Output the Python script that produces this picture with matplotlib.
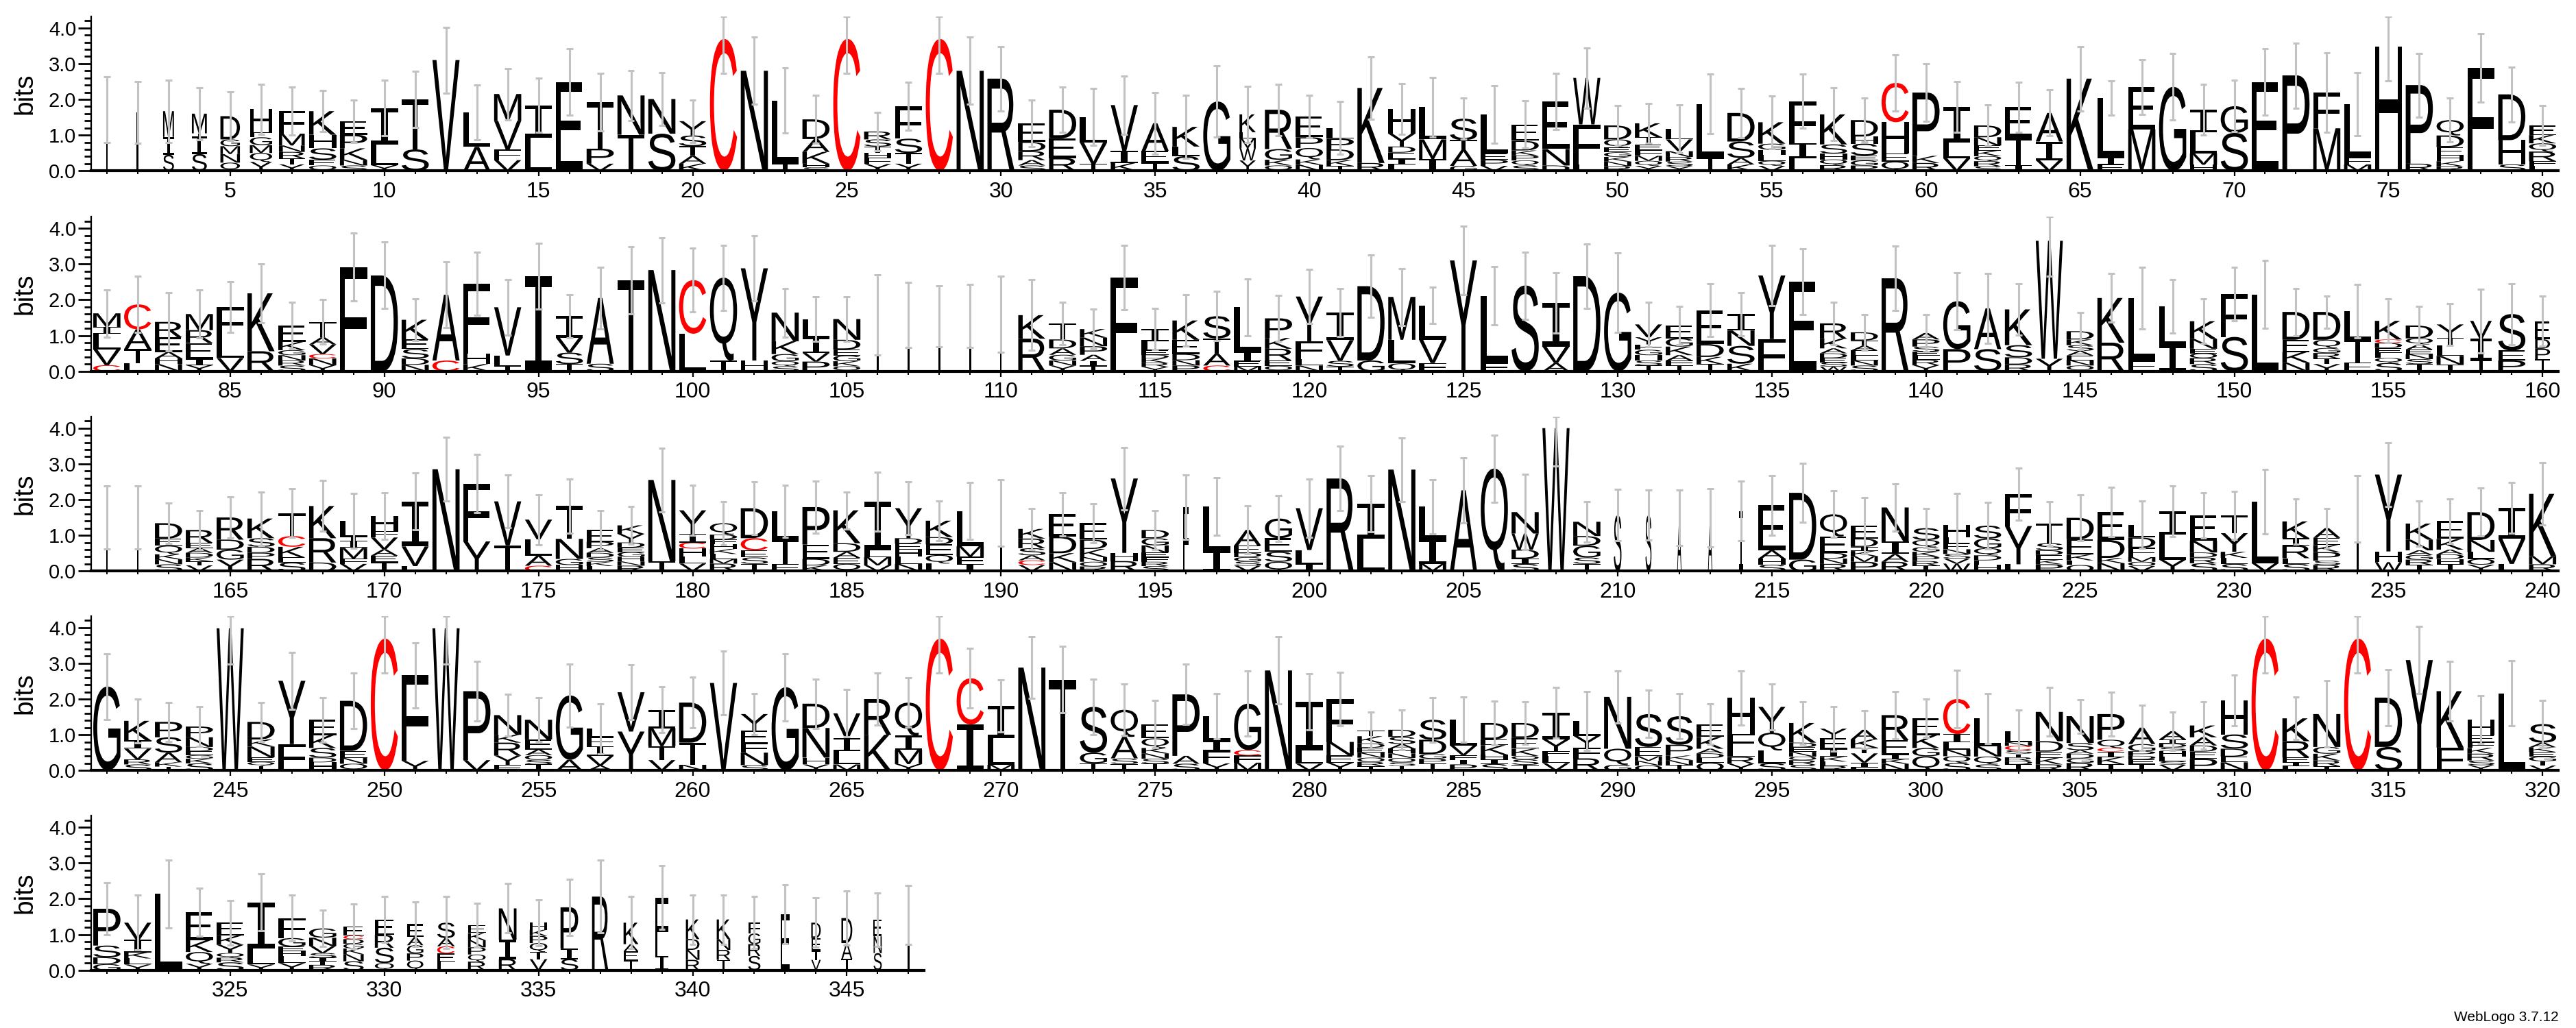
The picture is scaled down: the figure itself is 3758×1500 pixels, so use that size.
import matplotlib
matplotlib.use('Agg')
import matplotlib.pyplot as plt
from matplotlib.textpath import TextPath
from matplotlib.font_manager import FontProperties
from matplotlib.patches import PathPatch
from matplotlib.transforms import Affine2D
import numpy as np

# ---------------- data: stacks listed top -> bottom, "letter+bits" ----------------
ROW1_STACKS = [
    "I1.71", "I1.64", "M.72 I.5 S.45", "M.55 T.08 I.5 S.47", "D.65 G.19 M.22 N.24 Q.23",
    "H.65 F.14 G.22 M.22 Q.25 Y.25", "F.64 M.33 N.18 R.18 T.17 Y.18", "K.66 H.38 S.32 E.16 Q.15",
    "E.38 P.38 K.32 N.16 S.15", "I1.02 L.58 Y.16",
    "T1.4 S.6", "V3.1", "L.96 A.67", "M.75 V.8 F.3 V.3", "I.9 L.93",
    "E2.48", "T1.3 P.42 V.2", "N1.1 T1.01", "N.97 S1.04", "Y.4 S.3 T.27 A.22 K.2",
    "C3.69", "N2.8", "L1.77 T.2", "D.55 A.36 K.33 H.1 S.1", "C3.69",
    "R.22 S.2 T.18 H.13 F.18 Y.19", "F.9 S.4 T.3 Y.2", "C3.69", "N2.8", "R2.58",
    "E.52 D.26 R.25 A.15 S.15", "D.8 E.55 R.36", "L.72 V.6 T.19", "V1.28 I.34 K.22", "A.77 E.33 T.23",
    "K.55 L.27 S.41", "G1.94", "K.5 L.17 M.27 W.35 Y.29", "R1.1 G.3 K.16 Q.15", "E.58 P.3 Q.32 K.15 N.17",
    "L.3 P.3 D.3 K.16 T.14", "K2.1 R.22", "H.7 Y.36 D.17 E.17 I.17 L.17", "L.9 M.55 I.33", "S.6 T.27 A.45 G.14",
    "L1.1 E.17 P.17 V.14", "E.46 D.27 K.14 P.14 Q.14 S.15", "E1.33 N.46 D.15", "W1.3 F1.13 L.17",
    "D.39 Q.23 E.13 G.13 K.13 N.13 R.13",
    "K.39 T.2 E.16 F.16 M.14 Q.14 Y.14", "L.3 V.33 N.16 R.13 S.13 Y.13", "L1.5 T.37", "D.8 S.46 A.18 K.18",
    "K.6 G.17 H.14 L.17 Q.14 V.14",
    "F1.17 I.42 L.36", "K.84 S.26 H.16 Q.16 R.16", "D.46 H.2 S.33 E.14 G.14 P.15", "C1.1 H.87 E.23 Q.26",
    "P1.77 K.2 R.22",
    "I.98 L.45 V.35", "D.33 N.23 E.14 K.16 Q.14 R.14 S.13", "E.84 T.78 I.16", "A.8 I.52 V.3", "K2.58",
    "L1.66 I.2 E.17", "E1.19 M1.16", "G2.35", "I.64 L.58 M.32 H.17", "G.75 S1.06",
    "E2.48", "P2.67", "F1.0 M1.19", "L1.5 F.19 M.18", "H3.47",
    "P2.2 R.2", "Q.43 D.33 E.23 H.16 K.14 R.13", "F2.89", "D1.28 H.68 S.18", "E.27 K.23 Q.23 R.27 F.13 L.14",
]
ROW1_ERR = [
    .92, .86, .87, .73, .68, .70, .67, .57, .60, .77,
    .78, .92, .77, .72, .76, .93, .80, .70, .74, .60,
    .97, .94, .91, .67, .97, .53, .67, .97, .94, .90,
    .66, .64, .80, .81, .87, .88, 1.0, .79, .72, .59,
    .74, .87, .71, .84, .58, .81, .67, .78, .84, .55,
    .56, .67, .83, .69, .74, .75, .74, .61, .79, .81,
    .71, .57, .70, .64, .90, .48, .77, .93, .71, .72,
    .93, .91, 1.12, .88, .96, .89, .61, .96, .77, .55,
]

ROW2_STACKS = [
    "M.38 I.2 L.43 V.44 C.17", "C.7 A.55 T.4 L.22", "R.43 E.41 A.18 H.16 N.2", "M.45 R.36 E.45 I.17 Y.17",
    "F.87 L.55 V.37",
    "K1.62 R.56", "E.46 K.23 G.14 N.15 R.14 S.16", "T.43 A.2 V.27 C.12 N.19 Y.17", "F2.91", "D2.68",
    "K.55 E.27 S.26 D.18 N.18", "A1.84 C.3", "F1.95 H.3 K.2", "V1.35 L.3 T.14", "I2.66",
    "I.6 V.42 S.32 T.2", "A1.84 S.21", "T2.55", "N2.83", "C1.5 L1.05",
    "Q2.32 T.3", "Y2.58 H.3", "N.8 K.36 G.2 Q.14 S.14", "L.52 I.43 V.24 P.27", "N.58 D.27 E.17 G.16 K.14 Q.14",
    "I1.57", "I1.57", "I1.54", "I1.54", "I1.6",
    "K.66 R.91", "T.45 D.25 A.18 G.16 N.14 Y.16", "K.24 N.24 P.24 A.17 I.14 T.15", "F2.62",
    "I.35 L.24 E.13 D.1 K.12 R.12 Y.12",
    "K.54 E.4 D.17 N.15 P.16", "S.62 T.43 A.33 C.16", "L1.25 I.26 E.15 M.13", "P.55 K.3 R.33 E.15 Q.15",
    "Y1.25 F.5 L.18 N.16",
    "I.78 V.58 S.16 T.13", "D2.08 G.3", "M1.2 L.66 Q.22", "L.96 V.65 F.23", "Y3.1",
    "L1.88 F.23", "S2.4", "I1.22 V.46 A.23", "D2.66", "G2.2",
    "V.36 Y.2 F.15 G.15 H.15 S.14 T.16", "E.36 G.23 K.24 A.15 F.13 T.17", "E.95 D.36 K.2 T.2",
    "I.46 N.43 S.5 K.21", "Y1.78 F.9",
    "E2.5", "R.43 K.27 A.14 D.13 E.12 S.12 W.13", "D.23 T.14 A.14 E.14 L.14 N.14 S.16", "R2.6",
    "A.18 P.2 S.14 E.11 L.12 R.15 Y.17",
    "G1.34 P.62", "A1.14 S.62", "K1.0 S.34 D.2 R.19", "W3.3 Y.35", "D.23 K.16 S.16 A.13 E.13 N.15 Q.16",
    "K1.25 R.8", "L1.75 F.3", "L1.1 I.72", "K.5 N.27 E.13 O.13 R.17 S.2", "F1.2 S.96",
    "L2.15", "D.78 E.34 K.3 N.24", "D.78 Q.23 G.14 R.16 T.15 Y.2", "L.8 T.63 F.25",
    "K.52 C.1 D.14 E.14 L.14 Q.14 S.23",
    "D.36 Q.17 A.14 E.13 N.14 S.14 T.2", "Y.38 T.2 L.3 N.24 T.19", "V.5 I.6 T.31", "S1.02 E.28 P.3",
    "E.5 D.27 P.3 T.33",
]
ROW2_ERR = [
    .66, .79, .81, .67, .71, .82, .66, .62, .95, .93,
    .59, .92, .88, .78, .92, .60, .86, .94, .91, .89,
    .91, .92, .68, .62, .62, 1.12, .91, .86, .88, 1.06,
    .99, .60, .55, .90, .58, .72, .69, .80, .64, .76,
    .67, .88, .80, .51, .95, .81, .94, .84, .90, 1.11,
    .63, .53, .74, .60, .84, .92, .60, .50, .90, .52,
    .79, .97, .72, .99, .52, .68, .86, .75, .62, .75,
    .95, .66, .45, .74, .61, .53, .59, .89, .85, .70,
]

ROW3_STACKS = [
    "I1.5", "I1.5", "D.43 E.2 Q.24 K.14 N.14 S.19", "R.36 E.15 A.13 D.13 K.11 T.11 V.16", "R.62 D.28 G.28 Y.32",
    "K.55 S.24 D.17 P.17 R.34", "T.64 C.3 K.3 E.14 S.24", "K.9 R.68 D.24", "L.46 T.1 I.2 M.3 F.15 V.2",
    "H.42 F.18 V.33 A.18 E.18 T.25",
    "I1.26 V.55 L.14", "N2.85", "F1.62 Y.83", "V1.23 T.72", "V.55 L.46 A.28 C.15",
    "T.92 N.56 G.17 H.17", "E.33 P.18 A.13 D.13 S.12 K.12 L.14", "K.24 Y.24 D.14 E.13 G.13 H.13 N.12 R.15",
    "N2.28 T.27", "Y.66 I.24 C.17 H.22 L.2 V.21",
    "Q.32 D.13 F.13 H.14 K.14 L.14 M.13 R.21", "D.84 C.34 E.2 S.18 T.2", "L.79 T.69 F.2", "P1.05 E.4 D.18 K.16",
    "K.92 D.24 A.17 E.17 Q.2",
    "I1.35 L.2 M.23 V.16", "Y.84 D.15 E.17 H.2 L.2 N.2", "K.46 D.2 E.3 Q.24 L.21", "L.98 M.3 F.2 I.2", "I1.63",
    "K.27 R.27 S.2 A.14 C.13 V.17", "E.62 D.47 K.25 N.25", "E.46 D.26 K.23 N.13 O.13 R.13", "Y2.08 H.23 R.28",
    "D.23 G.2 N.2 E.13 F.13 R.12 S.14",
    "F1.79", "L1.25 I.56", "A.44 E.2 D.12 G.12 S.12 V.15", "G.55 E.38 S.28 Q.26", "V1.17 L.39 I.2",
    "R2.59", "I.99 L.9", "N2.84", "L.9 I.7 M.2", "A2.26",
    "Q2.87", "N.6 W.45 D.25 I.15 S.2", "W4.0", "N.4 D.27 G.33 S.18 T.2", "S1.56",
    "S1.56", "A1.49", "A1.49", "I1.68", "E1.26 A.23 H.17 S.18",
    "D1.87 G.32", "Q.62 E.46 D.16 N.15 R.2", "E.36 D.23 I.12 K.14 M.16 P.26", "N.95 I.35 A.22 R.26",
    "S.33 Q.2 G.13 K.13 P.13 R.13 T.15",
    "H.36 L.17 E.16 N.13 S.13 V.14 W.21", "S.36 G.27 Q.2 D.14 E.13 H.17", "F.9 Y1.07 L.19",
    "T.55 S.2 D.13 E.13 K.13 P.19", "D.6 E.43 K.16 L.13 O.17",
    "E.78 D.5 K.15 N.22", "L.36 D.29 F.26 M.13 O.12 V.14", "I.65 L.71 Y.32", "E.71 N.33 D.14 R.16 S.22",
    "T.5 Y.52 K.17 L.17 S.2",
    "L1.73 V.22", "K.47 I.2 R.36 L.16 S.2", "A.27 E.2 K.2 P.24 S.12 R.17", "I1.75", "Y2.15 H.3 W.25",
    "K.45 N.3 A.13 G.13 R.15 T.17", "E.5 K.3 A.13 D.13 H.15 T.19", "D.78 N.33 L.2 O.16 Y.18", "I.86 V.71 L.2",
    "K1.74 M.23 R.19",
]
ROW3_ERR = [
    .89, .89, .57, .55, .58, .75, .68, .71, .77, .65,
    .79, .89, .81, .74, .70, .76, .55, .52, .89, .70,
    .61, .74, .73, .73, .52, .83, .74, .56, .80, .93,
    .58, .61, .55, .87, .55, .90, .81, .67, .64, .82,
    .90, .79, .89, .75, .91, .94, 1.05, 1.06, .56, .72,
    .70, .77, .81, .84, .84, .82, .65, .78, .67, .55,
    .88, .66, .73, .61, .64, .69, .66, .71, .64, .67,
    .90, .63, .56, .93, .90, .63, .62, .67, .71, .87,
]

ROW4_STACKS = [
    "G2.35", "K.55 I.23 V.3 R.14 S.17", "P.43 S.43 A.27 K.12 T.11", "P.3 N.27 D.12 E.11 G.1 K.13 S.2", "W3.98",
    "D.49 K.2 N.3 E.13 Q.11 T.13", "Y1.77 F.74", "E.43 K.36 S.27 D.13 H.23", "D1.4 E.2 N.16 Q.19", "C3.69",
    "F2.4 Y.27", "W3.98", "P1.93 V.29", "N.55 K.22 R.36 Y.26 F.16", "N.55 E.28 A.16 O.13 S.13 T.17",
    "G1.8 A.3", "L.23 F.26 I.27 V.27 A.14", "V1.1 Y1.09", "I.52 M.5 T.39 V.29", "D1.12 T.62 N.16",
    "V2.45", "Y.46 E.36 F.26 N.35 S.15", "G2.33", "D.68 N.83 H.19 Y.17", "V.7 I.35 L.38 M.17",
    "R1.0 K1.0", "Q.92 I.4 M.4 Y.18", "C3.69", "C1.29 I1.29", "I.9 L.75 M.16",
    "N2.88", "T2.54", "S1.28 G.3 T.2", "Q.76 A.6 S.16 T.18", "E.4 Q.27 K.15 N.15 S.14 T.19",
    "P1.72 A.22 S.19", "L.7 I.27 F.35 Y.2", "G1.3 C.15 F.2 M.22", "N2.8", "I1.35 L.38 V.19",
    "F1.2 N.38 E.2 Y.22", "T.16 K.2 D.12 E.14 N.14 O.12 R.12 T.12", "D.2 S.2 A.13 H.13 N.13 O.12 S.1 T.13",
    "S.56 D.4 G.13 P.13 T.2", "L.72 V.27 F.13 I.13 P.17",
    "D.46 E.16 K.27 H.13 I.13 S.18", "D.42 E.3 K.2 O.1 S.15 T.16", "I.75 Y.33 F.13 L.2 V.21", "L.42 Y.33 F.3 R.34",
    "N1.45 Q.45 G.16",
    "S.92 E.26 M.13 N.13 O.14", "S.8 P.3 K.13 N.14 T.15", "E.36 K.33 A.13 D.13 L.13 O.22",
    "H1.0 F.46 L.19 R.19 Y.19", "Y.72 Q.5 L.36 S.2",
    "K.55 D.13 E.13 N.13 O.1 R.13 S.16", "Y.27 E.3 I.22 K.13 L.12 R.13", "A.27 K.23 T.16 V.26 I.13 L.09",
    "R.7 E.4 I.13 K.13 N.19", "E.47 K.36 G.23 Q.4",
    "C.98 I.23 L.2 N.19 Q.19 S.21", "L.78 N.29 Q.22 S.17", "L.3 N.1 C.12 S.1 T.1 R.1 D.1 T.17",
    "N.82 D.29 E.17 K.19 R.17", "N.75 S.2 A.1 D.13 G.13 R.21",
    "P.72 Q.23 C.1 I.16 K.19 T.18", "A.46 G.2 P.13 D.1 E.13 T.18", "A.23 I.12 D.1 S.1 H.16 L.13 S.1 V.16",
    "K.33 A.23 D.17 E.2 P.33", "H.95 S.4 D.22 E.16 N.23",
    "C3.69", "K.64 R.45 E.15 I.1 L.12", "N.92 G.19 K.19 R.16 T.12", "C3.69", "D1.38 S.66",
    "Y3.09", "K1.58 F.64", "H.43 E.2 F.16 K.16 R.19 S.13 Y.15", "L2.16", "S.52 A.13 K.13 E.13 G.13 T.12 V.14",
]
ROW4_ERR = [
    .92, .61, .54, .55, 1.01, .54, .80, .62, .78, .97,
    .91, 1.01, .83, .58, .61, .88, .70, .76, .64, .71,
    .89, .58, .94, .69, .66, .73, .69, .97, .83, .73,
    .86, .93, .78, .72, .66, .84, .63, .91, .94, .78,
    .75, .51, .55, .62, .63, .62, .59, .71, .83, .73,
    .66, .64, .57, .75, .65, .59, .62, .53, .66, .54,
    .80, .70, .60, .68, .47, .61, .63, .54, .66, .71,
    .97, .60, .93, .97, .79, .94, .83, .67, .91, .67,
]

ROW5_STACKS = [
    "P1.03 S.33 D.19 G.17", "V.48 I.35 K.17 L.17 Y.16", "L2.14", "E.78 K.33 Q.33 Y.18",
    "E.36 K.26 Y.23 Q.13 R.13 S.22",
    "I1.3 L.44 Y.16", "F.56 G.24 E.13 H.13 L.2 Y.2", "G.26 N.23 V.2 S.13 I.1 T.1 R.15",
    "E.26 C.1 D.13 G.13 K.16 N.2 S.25", "E.43 R.36 S.43 Q.2",
    "E.36 A.23 G.23 P.2 Q.27", "S.43 A.23 C.2 E.23 L.24", "E.22 K.2 N.2 P.2 Q.2 R.24", "N.88 I.54 R.31",
    "H.2 K.17 P.2 Q.25 T.2 V.31",
    "P1.15 I.3 S.31", "R2.06", "K.6 A.2 E.26 T.27", "F1.63 I.4", "K.55 D.3 N.28 R.29",
    "K.55 N.3 R.28 T.29", "F.3 G.3 R.33 S.4", "E1.57", "D.43 E.36 T.25 V.29", "D.7 A.44 T.32",
    "E.47 N.47 S.48", "I1.55",
]
ROW5_ERR = [
    .73, .77, .95, .67, .62, .80, .64, .51, .62, .64,
    .63, .73, .61, .69, .64, .79, 1.02, .73, .89, .69,
    .69, .73, .83, .69, .75, .75, .83,
]

# column width as fraction of a full column (gap-weighted), default 1
COLUMN_WIDTH = {
    1: .07, 2: .07, 3: .4, 4: .55, 5: .72, 6: .82, 7: .95, 38: .6,
    106: .06, 107: .06, 108: .06, 109: .06, 110: .06, 158: .8, 160: .55,
    161: .06, 162: .06, 190: .07, 196: .2,
    210: .28, 211: .22, 212: .16, 213: .16, 214: .16, 234: .06,
    329: .75, 330: .7, 331: .6, 332: .65, 333: .65, 334: .65, 335: .65, 336: .65, 337: .6,
    338: .55, 339: .5, 340: .5, 341: .5, 342: .45, 343: .35, 344: .35, 345: .4, 346: .3, 347: .06,
}

ROW_STARTS = [1, 81, 161, 241, 321]
ROWS = [(ROW1_STACKS, ROW1_ERR), (ROW2_STACKS, ROW2_ERR), (ROW3_STACKS, ROW3_ERR),
        (ROW4_STACKS, ROW4_ERR), (ROW5_STACKS, ROW5_ERR)]
Y_TICKS = [0, 1, 2, 3, 4]
Y_TICK_LABELS = ["0.0", "1.0", "2.0", "3.0", "4.0"]
COLORS = {"C": "#ff0000"}
MAX_BITS = np.log2(20)

# ---------------- layout (pixel geometry of the reference) ----------------
W_PX, H_PX = 3758, 1500
BASELINES = [249.3, 541.7, 833.3, 1124.3, 1415.7]
BIT_PX = 52.15
POS_PX = 44.98
LEFT_PX = 133.4
ERR_COLOR = "#c2c2c2"

plt.rcParams['font.family'] = ['Liberation Sans', 'DejaVu Sans']
fig = plt.figure(figsize=(W_PX / 100, H_PX / 100), dpi=100)

fp_main = FontProperties(family='Liberation Sans')
fp_I = FontProperties(family='DejaVu Sans Mono')
_cache = {}


def glyph(ch, thin=False):
    key = (ch, thin)
    if key not in _cache:
        prop = fp_I if (ch == 'I' and not thin) else fp_main
        tp = TextPath((0, 0), ch, size=1, prop=prop)
        _cache[key] = (tp, tp.get_extents())
    return _cache[key]


def draw_letter(ax, ch, xc, w, y0, h, thin=False):
    tp, ext = glyph(ch, thin)
    t = (Affine2D().translate(-ext.x0, -ext.y0)
         .scale(w / ext.width, h / ext.height)
         .translate(xc - w / 2, y0))
    ax.add_patch(PathPatch(t.transform_path(tp), facecolor=COLORS.get(ch, 'black'),
                           edgecolor='none', lw=0, zorder=2))


for r, (stacks, errs) in enumerate(ROWS):
    start = ROW_STARTS[r]
    bottom = 1 - BASELINES[r] / H_PX
    height = MAX_BITS * BIT_PX / H_PX
    ax = fig.add_axes([LEFT_PX / W_PX, bottom, 80 * POS_PX / W_PX, height])
    ax.set_xlim(start - 0.5, start + 79.5)
    ax.set_ylim(0, MAX_BITS)
    end = start + len(stacks) - 1
    for i, s in enumerate(stacks):
        pos = start + i
        tokens = [(t[0], float(t[1:])) for t in s.split()]
        cw = COLUMN_WIDTH.get(pos, 1.0)
        wf = cw * 0.88
        y = 0.0
        for ch, h in reversed(tokens):
            draw_letter(ax, ch, pos, wf, y, h, thin=cw < 0.1)
            y += h
        total = y
        lo = total - errs[i]
        hi = min(total + errs[i], MAX_BITS)
        ax.plot([pos, pos], [lo, hi], color=ERR_COLOR, lw=2.2, zorder=5, solid_capstyle='butt')
        for yy in (lo, hi):
            ax.plot([pos - 0.11, pos + 0.11], [yy, yy], color=ERR_COLOR, lw=2.2, zorder=5,
                    solid_capstyle='butt')

    for side in ('top', 'right'):
        ax.spines[side].set_visible(False)
    ax.spines['bottom'].set_linewidth(3.0)
    ax.spines['left'].set_linewidth(1.6)
    ax.spines['bottom'].set_bounds(start - 0.5, end + 0.5)
    ax.spines['left'].set_bounds(0, MAX_BITS)

    major = [p for p in range(start, end + 1) if p % 5 == 0]
    ax.set_xticks(major)
    ax.set_xticklabels([str(p) for p in major])
    ax.set_xticks(list(range(start, end + 1)), minor=True)
    ax.set_yticks(Y_TICKS)
    ax.set_yticklabels(Y_TICK_LABELS)
    ax.set_yticks(np.arange(0, 4.3, 0.2), minor=True)
    ax.tick_params(axis='x', which='major', length=6, width=1.6, labelsize=23, pad=5)
    ax.tick_params(axis='x', which='minor', length=3.5, width=1.4)
    ax.tick_params(axis='y', which='major', length=14, width=2.0, labelsize=21, pad=2)
    ax.tick_params(axis='y', which='minor', length=7, width=2.0)
    ax.set_facecolor('none')

    yc = 1 - (BASELINES[r] - MAX_BITS / 2 * BIT_PX) / H_PX
    fig.text(36 / W_PX, yc, 'bits', rotation=90, ha='center', va='center', fontsize=28)

fig.text(3733 / W_PX, 1 - 1490 / H_PX, 'WebLogo 3.7.12', ha='right', va='baseline', fontsize=15)

fig.savefig('out.png', dpi=100, facecolor='white')
